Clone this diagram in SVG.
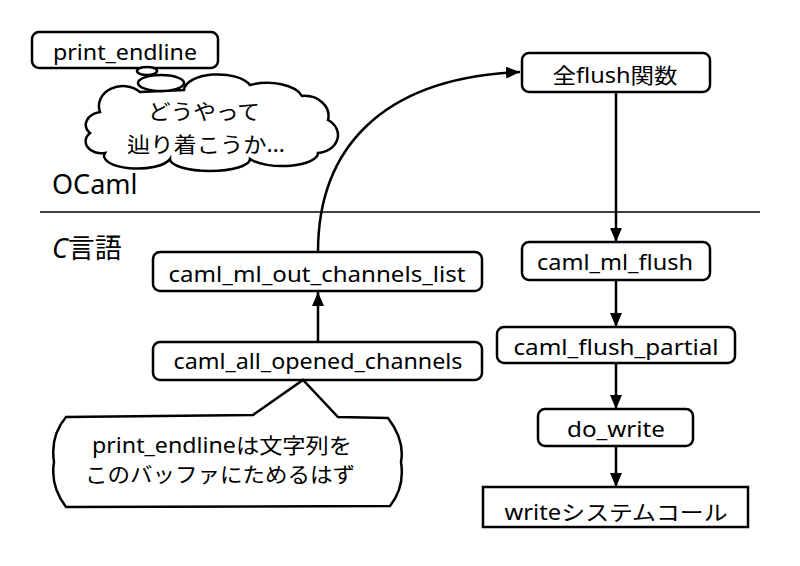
<svg xmlns="http://www.w3.org/2000/svg" width="800" height="566" viewBox="0 0 800 566">
<defs>
<style>
.box{fill:#fff;stroke:#000;stroke-width:2.5}
.t{font-family:'Noto Sans','Noto Sans CJK JP',sans-serif;font-size:21px;fill:#000;text-anchor:middle}
.big{font-family:'Noto Sans','Noto Sans CJK JP',sans-serif;font-size:27px;fill:#000}
.ln{fill:none;stroke:#000;stroke-width:2.5}
</style>
<marker id="ah" markerWidth="14" markerHeight="12" refX="14" refY="6" orient="auto" markerUnits="userSpaceOnUse">
<path d="M0,0 L14,6 L0,12 Z" fill="#000"/>
</marker>
</defs>
<rect width="800" height="566" fill="#fff"/>
<line x1="40" y1="212" x2="760" y2="212" stroke="#000" stroke-width="1.6"/>
<text class="big" x="52" y="194">OCaml</text>
<text class="big" x="52" y="258"><tspan font-style="italic">C</tspan>言語</text>

<g id="print_endline">
<rect class="box" x="32" y="32" width="186" height="36" rx="7"/>
<text class="t" x="125" y="60" textLength="144" lengthAdjust="spacingAndGlyphs">print_endline</text>
</g>

<g id="thought">
<path class="box" d="M100,112 A24,20 0 0 1 140,92 L184,90 A34,16 0 0 1 250,85 A36,18 0 0 1 302,96 A24,20 0 0 1 328,120 A22,18 0 0 1 318,153 A36,13 0 0 1 250,159 A40,12 0 0 1 170,159 A32,12 0 0 1 105,153 A16,12 0 0 1 90,133 A18,13 0 0 1 100,112 Z"/>
<ellipse cx="161" cy="83" rx="23" ry="8" class="box" stroke-width="2"/>
<ellipse cx="147" cy="71" rx="10" ry="4" class="box" stroke-width="2"/>
<text class="t" x="204" y="119" textLength="112" lengthAdjust="spacingAndGlyphs">どうやって</text>
<text class="t" x="206" y="152" textLength="158" lengthAdjust="spacingAndGlyphs">辿り着こうか…</text>
</g>

<g id="all_flush">
<rect class="box" x="522" y="53" width="188" height="39" rx="7"/>
<text class="t" x="615" y="83" textLength="125" lengthAdjust="spacingAndGlyphs">全flush関数</text>
</g>

<g id="out_channels_list">
<rect class="box" x="153" y="252" width="329" height="39" rx="7"/>
<text class="t" x="317" y="282" textLength="297" lengthAdjust="spacingAndGlyphs">caml_ml_out_channels_list</text>
</g>

<g id="all_opened">
<rect class="box" x="153" y="342" width="329" height="38" rx="7"/>
<text class="t" x="318" y="369" textLength="289" lengthAdjust="spacingAndGlyphs">caml_all_opened_channels</text>
</g>

<g id="ml_flush">
<rect class="box" x="522" y="242" width="188" height="38" rx="7"/>
<text class="t" x="615" y="270" textLength="156" lengthAdjust="spacingAndGlyphs">caml_ml_flush</text>
</g>

<g id="flush_partial">
<rect class="box" x="497" y="327" width="238" height="36" rx="7"/>
<text class="t" x="616" y="355" textLength="205" lengthAdjust="spacingAndGlyphs">caml_flush_partial</text>
</g>

<g id="do_write">
<rect class="box" x="538" y="409" width="155" height="37" rx="7"/>
<text class="t" x="616" y="437" textLength="98" lengthAdjust="spacingAndGlyphs">do_write</text>
</g>

<g id="write_syscall">
<rect class="box" x="483" y="487" width="265" height="40"/>
<text class="t" x="616" y="520" textLength="223" lengthAdjust="spacingAndGlyphs">writeシステムコール</text>
</g>

<g id="speech">
<path class="box" d="M253,415 L303,380 L338,417 L388,418 Q405,440 401,462 Q405,487 390,506 L66,507 Q50,486 54,462 Q50,436 66,417 Z"/>
<text class="t" x="222" y="453" textLength="260" lengthAdjust="spacingAndGlyphs">print_endlineは文字列を</text>
<text class="t" x="220" y="482" textLength="270" lengthAdjust="spacingAndGlyphs">このバッファにためるはず</text>
</g>

<g id="connectors">
<path class="ln" d="M318,252 C318,150 380,78 520,72" marker-end="url(#ah)"/>
<line class="ln" x1="616" y1="92" x2="616" y2="242" marker-end="url(#ah)"/>
<line class="ln" x1="616" y1="280" x2="616" y2="327" marker-end="url(#ah)"/>
<line class="ln" x1="616" y1="363" x2="616" y2="409" marker-end="url(#ah)"/>
<line class="ln" x1="616" y1="446" x2="616" y2="487" marker-end="url(#ah)"/>
<line class="ln" x1="318" y1="342" x2="318" y2="292" marker-end="url(#ah)"/>
</g>
</svg>
